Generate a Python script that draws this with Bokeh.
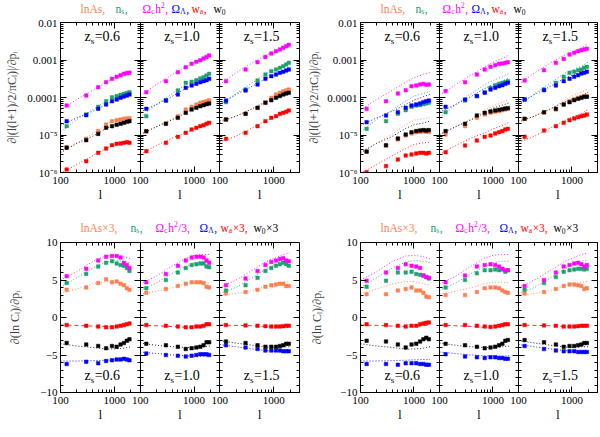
import math
from bokeh.plotting import figure
from bokeh.models import (Range1d, LogScale, LogAxis, LinearAxis, FixedTicker,
                          CustomJSTickFormatter, Label)
from bokeh.layouts import row, column
from bokeh.embed import file_html
from bokeh.resources import INLINE

# ---------------- data ----------------
L_BINS = [130, 300, 500, 700, 900, 1100, 1300, 1500, 1700, 1900]
L_LINE = [100, 200, 400, 700, 1000, 1500, 2000]
Z_LABELS = ["0.6", "1.0", "1.5"]
L_MIN, L_MAX = 100, 3000

# theory curves, top row |d(l(l+1)C_l/2pi)/dp|   (one list per z_s)
top_line_lnAs = [[3.48e-6, 6.18e-6, 1.07e-5, 1.9e-5, 2.49e-5, 2.7e-5, 2.87e-5],
                 [1.03e-5, 1.66e-5, 2.7e-5, 4.6e-5, 5.87e-5, 7.5e-5, 8.85e-5],
                 [2.11e-5, 3.18e-5, 4.99e-5, 8.0e-5, 1.09e-4, 1.39e-4, 1.7e-4]]
top_line_ns = [[1.19e-5, 2.59e-5, 4.8e-5, 7.98e-5, 1.09e-4, 1.28e-4, 1.45e-4],
               [2.87e-5, 6.5e-5, 1.28e-4, 2.22e-4, 2.84e-4, 3.56e-4, 4.37e-4],
               [6.1e-5, 1.28e-4, 2.46e-4, 4.28e-4, 5.36e-4, 6.85e-4, 8.75e-4]]
top_line_omch2 = [[4.6e-5, 8.9e-5, 1.57e-4, 2.57e-4, 3.34e-4, 4.19e-4, 4.64e-4],
                  [1.13e-4, 2.22e-4, 4.1e-4, 6.5e-4, 8.75e-4, 1.1e-3, 1.37e-3],
                  [2.22e-4, 4.55e-4, 8.4e-4, 1.32e-3, 1.65e-3, 2.11e-3, 2.64e-3]]
top_line_omL = [[1.79e-5, 2.87e-5, 4.33e-5, 6.5e-5, 8.5e-5, 1.06e-4, 1.22e-4],
                [4.07e-5, 6.5e-5, 1.09e-4, 1.74e-4, 2.22e-4, 2.73e-4, 3.29e-4],
                [6.5e-5, 1.2e-4, 2.0e-4, 3.15e-4, 3.94e-4, 4.74e-4, 5.81e-4]]
top_line_wa = [[9.4e-7, 1.63e-6, 2.84e-6, 4.36e-6, 5.58e-6, 6.18e-6, 6.44e-6],
               [3.02e-6, 5.25e-6, 8.4e-6, 1.14e-5, 1.46e-5, 1.8e-5, 2.2e-5],
               [6.44e-6, 9.3e-6, 1.55e-5, 2.34e-5, 2.99e-5, 3.75e-5, 4.79e-5]]
top_line_w0 = [[3.34e-6, 5.93e-6, 9.3e-6, 1.5e-5, 1.87e-5, 2.1e-5, 2.34e-5],
               [1.03e-5, 1.66e-5, 2.59e-5, 3.9e-5, 5.2e-5, 6.25e-5, 7.21e-5],
               [2.34e-5, 3.18e-5, 5.0e-5, 7.5e-5, 9.2e-5, 1.13e-4, 1.39e-4]]

# top-left points
tl_lnAs = [[4.7e-6, 7.9e-6, 1.27e-5, 1.9e-5, 2.34e-5, 2.49e-5, 2.59e-5, 2.7e-5, 2.75e-5, 2.81e-5],
           [1.27e-5, 2.03e-5, 3.18e-5, 4.79e-5, 5.64e-5, 6.5e-5, 7.21e-5, 7.66e-5, 7.98e-5, 8.49e-5],
           [2.59e-5, 3.66e-5, 5.3e-5, 7.5e-5, 9.8e-5, 1.2e-4, 1.33e-4, 1.47e-4, 1.54e-4, 1.63e-4]]
tl_ns = [[1.72e-5, 3.52e-5, 5.64e-5, 7.98e-5, 1.02e-4, 1.09e-4, 1.18e-4, 1.25e-4, 1.31e-4, 1.39e-4],
         [3.18e-5, 8.3e-5, 1.54e-4, 2.46e-4, 2.62e-4, 2.9e-4, 3.21e-4, 3.49e-4, 3.86e-4, 4.28e-4],
         [7.5e-5, 1.63e-4, 2.84e-4, 4.1e-4, 5.04e-4, 5.58e-4, 6.18e-4, 6.85e-4, 7.59e-4, 8.4e-4]]
tl_omch2 = [[6.1e-5, 1.13e-4, 1.89e-4, 2.57e-4, 3.15e-4, 3.56e-4, 3.94e-4, 4.28e-4, 4.5e-4, 4.6e-4],
            [1.39e-4, 2.73e-4, 4.74e-4, 6.44e-4, 7.91e-4, 8.94e-4, 9.9e-4, 1.1e-3, 1.21e-3, 1.32e-3],
            [2.73e-4, 5.58e-4, 8.75e-4, 1.21e-3, 1.49e-3, 1.72e-3, 1.91e-3, 2.11e-3, 2.34e-3, 2.54e-3]]
tl_omL = [[2.34e-5, 3.38e-5, 4.99e-5, 6.5e-5, 7.98e-5, 8.85e-5, 9.8e-5, 1.06e-4, 1.13e-4, 1.2e-4],
          [4.99e-5, 8.3e-5, 1.2e-4, 1.81e-4, 2.09e-4, 2.31e-4, 2.56e-4, 2.73e-4, 2.9e-4, 3.15e-4],
          [8.3e-5, 1.54e-4, 2.22e-4, 3.15e-4, 3.71e-4, 4.1e-4, 4.55e-4, 4.83e-4, 5.25e-4, 5.58e-4]]
tl_wa = [[1.2e-6, 2.0e-6, 3.35e-6, 4.36e-6, 5.36e-6, 5.81e-6, 5.93e-6, 6.18e-6, 6.44e-6, 6.18e-6],
         [3.71e-6, 6.18e-6, 8.93e-6, 1.14e-5, 1.4e-5, 1.55e-5, 1.72e-5, 1.83e-5, 1.99e-5, 2.11e-5],
         [7.9e-6, 1.14e-5, 1.72e-5, 2.34e-5, 2.87e-5, 3.18e-5, 3.66e-5, 3.9e-5, 4.15e-5, 4.5e-5]]
tl_w0 = [[4.6e-6, 7.28e-6, 1.07e-5, 1.55e-5, 1.72e-5, 1.87e-5, 1.99e-5, 2.11e-5, 2.24e-5, 2.34e-5],
         [1.25e-5, 2.0e-5, 2.87e-5, 3.9e-5, 4.79e-5, 5.3e-5, 5.87e-5, 6.25e-5, 6.64e-5, 6.92e-5],
         [2.59e-5, 3.66e-5, 5.3e-5, 7.21e-5, 8.49e-5, 9.8e-5, 1.09e-4, 1.2e-4, 1.28e-4, 1.33e-4]]

# top-right points
tr_lnAs = [[3.71e-6, 5.25e-6, 7.59e-6, 9.7e-6, 1.1e-5, 1.19e-5, 1.21e-5, 1.24e-5, 1.21e-5, 1.21e-5],
           [1.03e-5, 1.72e-5, 2.87e-5, 3.52e-5, 3.9e-5, 4.15e-5, 4.33e-5, 4.6e-5, 4.79e-5, 4.99e-5],
           [2.7e-5, 3.9e-5, 4.79e-5, 6.5e-5, 7.98e-5, 8.85e-5, 9.8e-5, 1.04e-4, 1.09e-4, 1.09e-4]]
tr_ns = [[1.46e-5, 2.34e-5, 3.67e-5, 4.59e-5, 5.64e-5, 6.12e-5, 6.25e-5, 6.64e-5, 6.92e-5, 7.21e-5],
         [4.07e-5, 8.3e-5, 1.09e-4, 1.39e-4, 1.81e-4, 2.09e-4, 2.31e-4, 2.46e-4, 2.56e-4, 2.73e-4],
         [8.85e-5, 1.63e-4, 2.46e-4, 3.56e-4, 4.55e-4, 4.83e-4, 5.36e-4, 5.58e-4, 6.18e-4, 6.58e-4]]
tr_omch2 = [[4.99e-5, 7.98e-5, 1.28e-4, 1.57e-4, 2.0e-4, 2.09e-4, 2.22e-4, 2.31e-4, 2.18e-4, 2.22e-4],
            [1.48e-4, 2.56e-4, 4.1e-4, 5.58e-4, 6.58e-4, 7.28e-4, 7.9e-4, 8.07e-4, 8.4e-4, 8.75e-4],
            [2.84e-4, 5.36e-4, 8.4e-4, 1.07e-3, 1.4e-3, 1.55e-3, 1.72e-3, 1.83e-3, 1.91e-3, 1.99e-3]]
tr_omL = [[2.2e-5, 3.31e-5, 4.07e-5, 5.3e-5, 6.12e-5, 6.5e-5, 6.92e-5, 7.52e-5, 7.98e-5, 8.3e-5],
          [5.64e-5, 8.85e-5, 1.09e-4, 1.33e-4, 1.63e-4, 1.81e-4, 2.0e-4, 2.13e-4, 2.31e-4, 2.46e-4],
          [8.85e-5, 1.57e-4, 2.09e-4, 2.73e-4, 3.15e-4, 3.56e-4, 3.94e-4, 4.37e-4, 4.55e-4, 4.83e-4]]
tr_wa = [[1.02e-6, 1.48e-6, 2.22e-6, 2.84e-6, 3.02e-6, 3.21e-6, 3.34e-6, 3.34e-6, 3.21e-6, 3.34e-6],
         [3.48e-6, 5.25e-6, 7.13e-6, 8.93e-6, 9.7e-6, 1.1e-5, 1.19e-5, 1.27e-5, 1.4e-5, 1.46e-5],
         [8.93e-6, 1.32e-5, 1.72e-5, 2.11e-5, 2.49e-5, 2.75e-5, 2.99e-5, 3.18e-5, 3.31e-5, 3.52e-5]]
tr_w0 = [[3.6e-6, 5.3e-6, 8.07e-6, 1.03e-5, 1.19e-5, 1.27e-5, 1.32e-5, 1.35e-5, 1.32e-5, 1.35e-5],
         [1.27e-5, 1.99e-5, 3.31e-5, 3.9e-5, 4.24e-5, 4.5e-5, 4.69e-5, 4.89e-5, 5.09e-5, 5.2e-5],
         [2.7e-5, 4.07e-5, 4.99e-5, 6.5e-5, 7.52e-5, 8.49e-5, 9.2e-5, 9.8e-5, 1.04e-4, 1.04e-4]]

# theory curves, bottom row d(ln C_l)/dp (scaled as in the titles)
bot_line_lnAs = [[3.2, 3.8, 4.5, 4.8, 4.8, 4.5, 4.3], [3.1, 3.5, 4.0, 4.5, 4.7, 4.7, 4.6],
                 [3.0, 3.2, 3.6, 4.2, 4.5, 4.7, 4.8]]
bot_line_ns = [[4.0, 5.3, 6.6, 7.4, 7.6, 7.5, 7.3], [3.6, 4.6, 5.9, 6.8, 7.3, 7.5, 7.5],
               [3.2, 4.0, 5.3, 6.4, 7.0, 7.5, 7.7]]
bot_line_omch2 = [[5.0, 6.1, 7.5, 8.2, 8.3, 8.1, 7.8], [4.5, 5.5, 6.9, 7.9, 8.3, 8.4, 8.4],
                  [4.0, 5.0, 6.3, 7.4, 7.9, 8.4, 8.6]]
bot_line_omL = [[-5.8, -5.8, -5.75, -5.7, -5.65, -5.6, -5.6], [-4.6, -4.8, -5.0, -5.1, -5.15, -5.15, -5.1],
                [-3.6, -3.9, -4.2, -4.4, -4.5, -4.6, -4.6]]
bot_line_wa = [[-1.0, -1.05, -1.15, -1.2, -1.2, -1.1, -1.0], [-1.0, -1.1, -1.2, -1.3, -1.25, -1.15, -1.0],
               [-1.0, -1.05, -1.1, -1.2, -1.2, -1.2, -1.15]]
bot_line_w0 = [[-3.5, -3.8, -4.0, -4.2, -4.2, -4.1, -3.9], [-3.4, -3.7, -3.9, -4.0, -4.0, -3.9, -3.8],
               [-3.1, -3.4, -3.7, -3.9, -4.0, -3.9, -3.9]]

# bottom-left points
bl_lnAs = [[3.7, 4.0, 4.6, 5.1, 4.7, 4.8, 4.5, 4.3, 3.9, 3.7], [3.3, 3.8, 4.2, 4.5, 4.7, 4.7, 4.7, 4.6, 4.1, 4.0],
           [3.2, 3.4, 3.7, 4.1, 4.3, 4.4, 4.5, 4.5, 4.2, 4.2]]
bl_ns = [[4.6, 5.8, 6.8, 7.3, 7.5, 7.2, 7.0, 6.9, 6.6, 6.2], [3.9, 5.0, 6.0, 6.6, 7.0, 7.1, 7.2, 7.2, 6.8, 6.7],
         [3.6, 4.3, 5.3, 6.2, 6.6, 6.9, 7.1, 7.3, 7.1, 6.9]]
bl_omch2 = [[5.5, 6.5, 7.6, 8.1, 8.2, 8.2, 8.0, 7.3, 7.0, 6.6], [4.7, 5.8, 6.9, 7.6, 8.0, 8.1, 8.1, 8.0, 7.6, 7.3],
            [4.3, 5.2, 6.2, 7.0, 7.4, 7.6, 7.8, 7.9, 7.6, 7.5]]
bl_omL = [[-6.2, -5.9, -6.1, -5.8, -5.7, -5.6, -5.6, -5.5, -5.6, -5.7],
          [-4.8, -5.0, -5.1, -5.2, -5.1, -5.0, -4.9, -4.9, -4.9, -5.0],
          [-3.7, -4.0, -4.2, -4.4, -4.4, -4.4, -4.4, -4.5, -4.5, -4.5]]
bl_wa = [[-1.0, -1.1, -1.2, -1.3, -1.3, -1.2, -1.1, -1.0, -0.9, -0.8],
         [-1.0, -1.1, -1.2, -1.3, -1.3, -1.2, -1.2, -1.1, -0.9, -0.9],
         [-1.0, -1.05, -1.1, -1.15, -1.2, -1.2, -1.2, -1.15, -1.1, -1.1]]
bl_w0 = [[-3.4, -3.6, -3.8, -4.1, -3.8, -3.9, -3.6, -3.4, -3.1, -2.9],
         [-3.5, -3.7, -3.9, -4.2, -4.1, -4.0, -3.9, -3.7, -3.3, -3.3],
         [-3.2, -3.4, -3.7, -3.9, -3.9, -3.9, -3.8, -3.7, -3.5, -3.5]]

# bottom-right points
br_lnAs = [[3.1, 3.1, 3.6, 3.8, 4.0, 3.6, 3.6, 3.3, 2.8, 2.7], [3.0, 3.0, 3.4, 3.9, 4.0, 4.0, 3.9, 3.6, 3.4, 3.3],
           [3.2, 3.4, 3.8, 4.2, 4.4, 4.4, 4.3, 4.2, 3.8, 3.9]]
br_ns = [[4.1, 4.9, 6.0, 6.0, 6.1, 5.8, 5.7, 5.6, 5.4, 5.2], [4.0, 5.0, 5.9, 6.3, 6.3, 6.4, 6.3, 6.4, 6.1, 6.3],
         [3.7, 4.6, 5.4, 6.1, 6.3, 6.4, 6.5, 6.5, 6.4, 6.5]]
br_omch2 = [[4.9, 6.0, 6.6, 7.1, 6.9, 6.8, 6.6, 5.6, 5.4, 5.3], [4.7, 5.6, 6.8, 7.0, 7.1, 7.0, 6.8, 6.5, 6.3, 6.3],
            [4.2, 5.0, 6.0, 6.8, 7.0, 7.2, 7.3, 7.1, 6.8, 7.0]]
br_omL = [[-6.2, -6.2, -6.3, -6.1, -6.1, -6.1, -6.2, -6.2, -6.3, -6.3],
          [-4.9, -5.2, -5.3, -5.4, -5.3, -5.3, -5.4, -5.4, -5.5, -5.5],
          [-3.8, -4.2, -4.4, -4.5, -4.5, -4.5, -4.6, -4.6, -4.6, -4.6]]
br_wa = [[-0.9, -1.0, -1.1, -1.2, -1.1, -1.1, -0.9, -0.8, -0.7, -0.65],
         [-1.0, -1.0, -1.1, -1.2, -1.25, -1.2, -1.1, -1.0, -0.9, -0.9],
         [-1.0, -1.05, -1.1, -1.2, -1.2, -1.2, -1.15, -1.1, -1.1, -1.1]]
br_w0 = [[-3.1, -3.2, -3.6, -4.0, -3.6, -3.5, -3.2, -2.9, -2.7, -2.9],
         [-3.5, -3.7, -3.9, -4.1, -4.0, -3.9, -3.7, -3.5, -3.1, -3.0],
         [-3.0, -3.3, -3.6, -3.9, -3.8, -3.8, -3.7, -3.6, -3.4, -3.4]]

# ---------------- styling ----------------
FONT = "Liberation Serif"
KEYS = ["lnAs", "ns", "omch2", "omL", "wa", "w0"]
COLORS = {"lnAs": "#ff7f50", "ns": "#20a070", "omch2": "#ff00ff",
          "omL": "#0000ff", "wa": "#ff0000", "w0": "#000000"}
N_PANEL = 3
SPAN = L_MAX / L_MIN
TOTAL_W = 599
FRAME_L = [60, 360]          # frame left of the two groups (page px)
T_MAIN, T_SUB = 11.5, 7.5

EM = {'l': .278, 'n': .5, 'A': .722, 's': .389, ',': .25, '×': .564, '3': .5, 'Ω': .768,
      'c': .444, 'h': .5, '2': .5, '/': .278, 'Λ': .722, 'w': .722, 'a': .444, '0': .5,
      'z': .444, '=': .564, '.': .25, '1': .5, '5': .5, '6': .5}


def tw(s, size):
    return sum(EM.get(ch, .5) for ch in s) * size


TOP_TERMS = [(20, "lnAs", [("lnAs,", "n")]),
             (55, "ns", [("n", "n"), ("s", "sub"), (",", "n")]),
             (82, "omch2", [("Ω", "n"), ("c", "sub"), ("h", "n"), ("2", "sup"), (",", "n")]),
             (111, "omL", [("Ω", "n"), ("Λ", "sub"), (",", "n")]),
             (131, "wa", [("w", "n"), ("a", "sub"), (",", "n")]),
             (153, "w0", [("w", "n"), ("0", "sub")])]
BOT_TERMS = [(20, "lnAs", [("lnAs×3,", "n")]),
             (70, "ns", [("n", "n"), ("s", "sub"), (",", "n")]),
             (95, "omch2", [("Ω", "n"), ("c", "sub"), ("h", "n"), ("2", "sup"), ("/3,", "n")]),
             (139, "omL", [("Ω", "n"), ("Λ", "sub"), (",", "n")]),
             (160, "wa", [("w", "n"), ("a", "sub"), ("×3,", "n")]),
             (193, "w0", [("w", "n"), ("0", "sub"), ("×3", "n")])]


def style_axis(ax, ticker, formatter=None, labels=False):
    ax.ticker = ticker
    if formatter is not None:
        ax.formatter = formatter
    ax.major_tick_in = 6
    ax.major_tick_out = 0
    ax.minor_tick_in = 3
    ax.minor_tick_out = 0
    ax.axis_line_color = "black"
    ax.major_tick_line_color = "black"
    ax.minor_tick_line_color = "black"
    ax.major_label_standoff = 3
    if labels:
        ax.major_label_text_font = FONT
        ax.major_label_text_font_size = "11px"
        ax.major_label_text_color = "black"
    else:
        ax.major_label_text_color = None


def header(height, terms, y_center):
    h = figure(frame_width=TOTAL_W, frame_height=height, x_range=Range1d(0, TOTAL_W),
               y_range=Range1d(0, height), min_border=0, x_axis_location=None,
               y_axis_location=None, output_backend="svg", toolbar_location=None)
    h.grid.visible = False
    h.outline_line_color = None
    h.background_fill_color = "white"
    h.border_fill_color = "white"
    yc = height - y_center
    for fl in FRAME_L:
        for start, key, parts in terms:
            x0 = fl + start
            for txt, kind in parts:
                if kind == "n":
                    size, sdy = T_MAIN, 0
                elif kind == "sub":
                    size, sdy = T_SUB, -3
                else:
                    size, sdy = T_SUB, 4
                h.add_layout(Label(x=x0, y=yc + sdy, text=txt, text_font=FONT,
                                   text_font_size=f"{size}px", text_color=COLORS[key],
                                   text_baseline="middle", text_align="left"))
                x0 += tw(txt, size) + (0.5 if kind != "n" else 0)
    return h


def make_group(is_top, pts, lines, frame_w, bl, br, bt, bb, ylabel, ylab_standoff):
    x_end = L_MIN * SPAN ** N_PANEL
    if is_top:
        yr = Range1d(1e-6, 1e-2)
        ytype = "log"
        yticker = FixedTicker(ticks=[1e-6, 1e-5, 1e-4, 1e-3, 1e-2],
                              minor_ticks=[m * 10.0 ** e for e in range(-6, -2) for m in range(2, 10)])
        yfmt = CustomJSTickFormatter(code="""
            const e = Math.round(Math.log10(tick));
            const m = {'-2': '0.01', '-3': '0.001', '-4': '0.0001', '-5': '10\u207b\u2075', '-6': '10\u207b\u2076'};
            return m[String(e)] || '';
        """)
        YAxis = LogAxis
    else:
        yr = Range1d(-10, 10)
        ytype = "linear"
        yticker = FixedTicker(ticks=[-10, -5, 0, 5, 10],
                              minor_ticks=[v for v in range(-9, 10) if v % 5 != 0])
        yfmt = CustomJSTickFormatter(code="return tick < 0 ? '\u2212' + Math.abs(tick) : String(tick);")
        YAxis = LinearAxis

    p = figure(x_axis_type="log", y_axis_type=ytype, x_range=Range1d(L_MIN, x_end), y_range=yr,
               frame_width=frame_w, frame_height=150,
               min_border_left=bl, min_border_right=br, min_border_top=bt, min_border_bottom=bb,
               x_axis_location=None, y_axis_location="left",
               output_backend="svg", toolbar_location=None)
    p.grid.visible = False
    p.outline_line_color = "black"
    p.outline_line_width = 1
    p.background_fill_color = "white"
    p.border_fill_color = "white"
    # one log scale per panel, each panel covering l = 100..3000
    p.extra_x_ranges = {f"p{i}": Range1d(L_MIN / SPAN ** i, L_MIN * SPAN ** (N_PANEL - i))
                        for i in range(N_PANEL)}
    p.extra_x_scales = {f"p{i}": LogScale() for i in range(N_PANEL)}

    main = p.yaxis[0]
    style_axis(main, yticker, yfmt, labels=True)
    main.axis_label = ylabel
    main.axis_label_text_font = FONT
    main.axis_label_text_font_size = "12px"
    main.axis_label_text_font_style = "normal"
    main.axis_label_standoff = ylab_standoff

    # inner-tick axes on every panel boundary and on the right edge
    for i in range(1, N_PANEL + 1):
        loc = L_MIN * SPAN ** i
        sides = ("right",) if i == N_PANEL else ("left", "right")
        for side in sides:
            ax = YAxis(fixed_location=loc)
            style_axis(ax, yticker, CustomJSTickFormatter(code="return '';"))
            p.add_layout(ax, side)

    # shared l axis: each panel repeats l = 100 .. 3000
    maj = [L_MIN * m * SPAN ** i for i in range(N_PANEL) for m in (1, 10)]
    mnr = [m * SPAN ** i for i in range(N_PANEL)
           for m in (200, 300, 400, 500, 600, 700, 800, 900, 2000, 3000)]
    xticker = FixedTicker(ticks=maj, minor_ticks=mnr)
    xfmt = CustomJSTickFormatter(args=dict(span=SPAN, lmin=L_MIN), code="""
        const i = Math.floor(Math.log(tick / lmin) / Math.log(span) + 1e-6);
        return String(Math.round(tick / Math.pow(span, i)));
    """)
    below = LogAxis()
    style_axis(below, xticker, xfmt, labels=True)
    below.major_label_standoff = 4
    p.add_layout(below, "below")
    above = LogAxis(fixed_location=yr.end)
    style_axis(above, xticker, CustomJSTickFormatter(code="return '';"))
    p.add_layout(above, "above")
    # the "l" title under each panel
    centers = [math.sqrt(L_MIN * L_MAX) * SPAN ** i for i in range(N_PANEL)]
    lab = LogAxis(ticker=FixedTicker(ticks=centers, minor_ticks=[]),
                  formatter=CustomJSTickFormatter(code="return 'l';"))
    lab.major_tick_in = 0
    lab.major_tick_out = 0
    lab.minor_tick_in = 0
    lab.minor_tick_out = 0
    lab.axis_line_color = None
    lab.major_label_standoff = 1
    lab.major_label_text_font = FONT
    lab.major_label_text_font_size = "12px"
    lab.major_label_text_color = "black"
    p.add_layout(lab, "below")

    for i in range(N_PANEL):
        rn = f"p{i}"
        for k in KEYS:
            dash = "4 3" if (k == "wa" and not is_top) else "1 2"
            p.line(L_LINE, lines[k][i], x_range_name=rn, line_color=COLORS[k],
                   line_width=1, line_dash=dash, line_alpha=0.85)
        for k in KEYS:
            p.scatter(L_BINS, pts[k][i], x_range_name=rn, marker="square", size=3.5,
                      fill_color=COLORS[k], line_color=COLORS[k], line_width=0.5)

    # z_s labels
    for i, z in enumerate(Z_LABELS):
        ax_x = L_MIN * SPAN ** i
        if is_top:
            ay, dy = yr.end, -14
        else:
            ay, dy = yr.start, 17
        x0 = 24
        pieces = [("z", 14, 0), ("s", 9, -4), ("=" + z, 14, 0)]
        for txt, size, sdy in pieces:
            p.add_layout(Label(x=ax_x, y=ay, x_offset=x0, y_offset=dy + sdy, text=txt,
                               text_font=FONT, text_font_size=f"{size}px", text_color="black",
                               text_baseline="middle", text_align="left"))
            x0 += tw(txt, size) + (0.5 if size < 14 else 0)
    return p


def pack(names, prefix):
    return {k: globals()[f"{prefix}_{k}"] for k in names}


TOP_Y = "\u2202|(l(l+1)/2/\u03c0C\u2097)|/\u2202p\u1d62"
BOT_Y = "\u2202(ln C\u2097)/\u2202p\u1d62"

H_TOP = header(15, TOP_TERMS, 8)
TL = make_group(True, pack(KEYS, "tl"), pack(KEYS, "top_line"), 239, 60, 3, 7, 33, TOP_Y, 5)
TR = make_group(True, pack(KEYS, "tr"), pack(KEYS, "top_line"), 237, 58, 2, 7, 33, TOP_Y, 3)
H_BOT = header(30, BOT_TERMS, 22)
BL = make_group(False, pack(KEYS, "bl"), pack(KEYS, "bot_line"), 239, 60, 3, 7, 33, BOT_Y, 15)
BR = make_group(False, pack(KEYS, "br"), pack(KEYS, "bot_line"), 237, 58, 2, 7, 33, BOT_Y, 13)

layout = column(H_TOP, row(TL, TR), H_BOT, row(BL, BR))
open("out.html", "w").write(file_html(layout, INLINE))
